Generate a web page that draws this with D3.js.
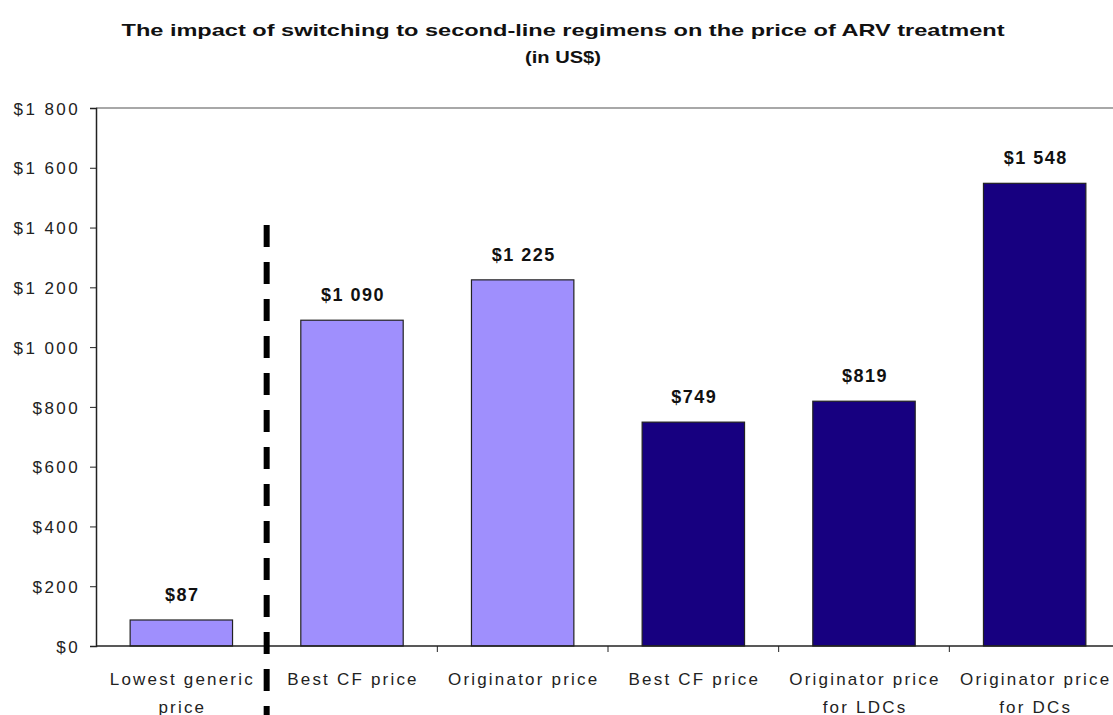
<!DOCTYPE html>
<html>
<head>
<meta charset="utf-8">
<script src="https://cdn.jsdelivr.net/npm/d3@7"></script>
<style>
  body { margin: 0; background: #fff; }
  text { font-family: "Liberation Sans", Arial, sans-serif; }
</style>
</head>
<body>
<script>
// data
var categories = ["Lowest generic\nprice", "Best CF price", "Originator price", "Best CF price",
                  "Originator price\nfor LDCs", "Originator price\nfor DCs"];
var prices = [87, 1090, 1225, 749, 819, 1548];
var priceLabels = ["$87", "$1 090", "$1 225", "$749", "$819", "$1 548"];
var groups = ["generic", "light", "light", "dark", "dark", "dark"];
var yTicks = [0, 200, 400, 600, 800, 1000, 1200, 1400, 1600, 1800];
var yTickLabels = ["$0", "$200", "$400", "$600", "$800", "$1 000", "$1 200", "$1 400", "$1 600", "$1 800"];

var width = 1113, height = 715;
var plotLeft = 96, plotRight = 1120, plotTop = 108, plotBottom = 646;

var svg = d3.select("body").append("svg")
    .attr("width", width)
    .attr("height", height);

var x = d3.scaleBand()
    .domain(d3.range(categories.length))
    .range([plotLeft, plotRight])
    .paddingInner(0.4)
    .paddingOuter(0.2);

var y = d3.scaleLinear()
    .domain([0, 1800])
    .range([plotBottom, plotTop]);

var colour = { generic: "#9f8ffd", light: "#9f8ffd", dark: "#170080" };

function mid(i) { return x(i) + x.bandwidth() / 2; }

// title
svg.append("text")
   .attr("x", 563).attr("y", 36)
   .attr("text-anchor", "middle")
   .attr("textLength", 883).attr("lengthAdjust", "spacingAndGlyphs")
   .style("font-size", "17px").style("font-weight", "bold").style("fill", "#111")
   .text("The impact of switching to second-line regimens on the price of ARV treatment");
svg.append("text")
   .attr("x", 563).attr("y", 63)
   .attr("text-anchor", "middle")
   .attr("textLength", 76).attr("lengthAdjust", "spacingAndGlyphs")
   .style("font-size", "17px").style("font-weight", "bold").style("fill", "#111")
   .text("(in US$)");

// top gridline
svg.append("line")
   .attr("x1", plotLeft).attr("x2", width)
   .attr("y1", y(1800)).attr("y2", y(1800))
   .style("stroke", "#a8a8a8").style("stroke-width", 2);

// bars
svg.selectAll("rect.bar")
   .data(prices)
   .enter()
   .append("rect")
   .attr("class", "bar")
   .attr("x", function(d, i) { return x(i); })
   .attr("width", x.bandwidth())
   .attr("y", function(d) { return y(d); })
   .attr("height", function(d) { return y(0) - y(d); })
   .attr("fill", function(d, i) { return colour[groups[i]]; })
   .style("stroke", "#222").style("stroke-width", 1.2);

// value labels
svg.selectAll("text.val")
   .data(prices)
   .enter()
   .append("text")
   .attr("class", "val")
   .attr("x", function(d, i) { return mid(i) + 1; })
   .attr("y", function(d) { return y(d) - 19; })
   .attr("text-anchor", "middle")
   .style("font-size", "18px").style("font-weight", "bold").style("fill", "#111")
   .style("letter-spacing", "1.5px")
   .text(function(d, i) { return priceLabels[i]; });

// y axis
var yAxis = d3.axisLeft(y)
    .tickValues(yTicks)
    .tickSize(6)
    .tickFormat(function(d, i) { return yTickLabels[i]; });
var gy = svg.append("g")
    .attr("transform", "translate(" + plotLeft + ",0)")
    .call(yAxis);
gy.select(".domain").style("stroke", "#222").style("stroke-width", 1.5);
gy.selectAll(".tick line").style("stroke", "#222");
gy.selectAll(".tick text")
  .attr("x", -16)
  .attr("dy", "0.36em")
  .style("font-size", "17px").style("fill", "#222")
  .style("letter-spacing", "2.4px");

// x axis
svg.append("line")
   .attr("x1", plotLeft).attr("x2", width)
   .attr("y1", plotBottom).attr("y2", plotBottom)
   .style("stroke", "#222").style("stroke-width", 1.5);
svg.selectAll("line.xtick")
   .data(d3.range(1, categories.length))
   .enter()
   .append("line")
   .attr("class", "xtick")
   .attr("x1", function(d) { return x(d) - x.step() * x.paddingInner() / 2; })
   .attr("x2", function(d) { return x(d) - x.step() * x.paddingInner() / 2; })
   .attr("y1", plotBottom).attr("y2", plotBottom + 6)
   .style("stroke", "#222");

// category labels
var cat = svg.selectAll("text.cat")
   .data(categories)
   .enter()
   .append("text")
   .attr("class", "cat")
   .attr("text-anchor", "middle")
   .style("font-size", "17px").style("fill", "#222")
   .style("letter-spacing", "2.2px");
cat.each(function(d, i) {
  var t = d3.select(this);
  d.split("\n").forEach(function(line, k) {
    t.append("tspan")
     .attr("x", mid(i) + 1)
     .attr("y", 685 + k * 28)
     .text(line);
  });
});

// dashed separator between generic and second-line prices
var sepX = x(1) - x.step() * x.paddingInner() / 2;
svg.append("line")
   .attr("x1", sepX).attr("x2", sepX)
   .attr("y1", 225).attr("y2", 715)
   .style("stroke", "#000").style("stroke-width", 6)
   .style("stroke-dasharray", "22,15");
</script>
</body>
</html>
